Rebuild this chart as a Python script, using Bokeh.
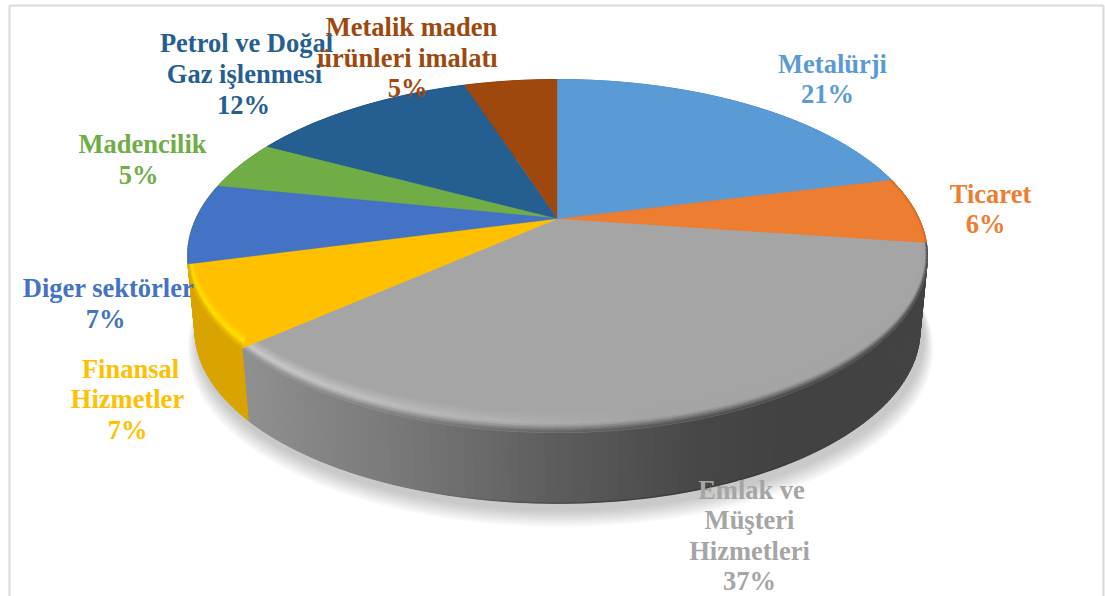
import math
from bokeh.plotting import figure
from bokeh.models import Range1d
from bokeh.core.properties import value
from bokeh.embed import file_html
from bokeh.resources import INLINE

categories = ["Metalürji", "Ticaret", "Emlak ve Müşteri Hizmetleri", "Finansal Hizmetler",
              "Diger sektörler", "Madencilik", "Petrol ve Doğal Gaz işlenmesi",
              "Metalik maden ürünleri imalatı"]
shares = [21.1, 6.1, 36.3, 7.4, 7.3, 4.6, 12.2, 5.0]
colors = ["#5B9BD5", "#ED7D31", "#A5A5A5", "#FFC000", "#4472C4", "#70AD47", "#255E91", "#9E480E"]

label_lines = [
    (["Metalürji", "21%"], [832, 827], [63, 93]),
    (["Ticaret", "6%"], [990, 985], [193, 223]),
    (["Emlak ve", "Müşteri", "Hizmetleri", "37%"], [751, 749, 749, 749], [489, 519, 550, 580]),
    (["Finansal", "Hizmetler", "7%"], [130, 127, 127], [368, 398, 429]),
    (["Diger sektörler", "7%"], [108, 105], [287, 318]),
    (["Madencilik", "5%"], [142, 138], [143, 174]),
    (["Petrol ve Doğal", "Gaz işlenmesi", "12%"], [246, 244, 243], [42, 73, 104]),
    (["Metalik maden", "ürünleri imalatı", "5%"], [411, 407, 407], [26, 57, 87]),
]

CX, CY, A, B, K = 557.0, 218.0, 361.5, 168.5, 0.2126
DEPTH, SHRINK = 75.0, 0.98


def top(theta, r=1.0):
    u, v = r * math.sin(theta), r * math.cos(theta)
    w = 1 + K * v
    return CX + A * u / w, CY - B * v / w


def bottom(theta, r=1.0):
    x, y = top(theta, r)
    return CX + (x - CX) * SHRINK, CY + (y - CY) * SHRINK + DEPTH


def hex2rgb(c):
    return tuple(int(c[i:i + 2], 16) for i in (1, 3, 5))


def mix(a, b, t):
    t = max(0.0, min(1.0, t))
    return tuple(a[i] + (b[i] - a[i]) * t for i in range(3))


def tohex(c):
    return "#%02x%02x%02x" % tuple(int(round(v)) for v in c)


def side_rgb(i, x):
    if i == 2:
        stops = [(240, 0x90), (400, 0x78), (557, 0x5c), (700, 0x47), (780, 0x42), (930, 0x42)]
        for (x0, g0), (x1, g1) in zip(stops, stops[1:]):
            if x <= x1:
                g = g0 + (g1 - g0) * max(0, x - x0) / (x1 - x0)
                return (g, g, g)
        return (0x42, 0x42, 0x42)
    if i == 4:  # the sliver at the left silhouette reads as the yellow wall
        i = 3
    return tuple(v * 0.855 for v in hex2rgb(colors[i]))


total = sum(shares)
edges = [0.0]
for s in shares:
    edges.append(edges[-1] + s / total * 2 * math.pi)

p = figure(width=1105, height=596, output_backend="svg", toolbar_location=None,
           x_range=Range1d(0, 1105), y_range=Range1d(596, 0),
           x_axis_location=None, y_axis_location=None, min_border=0,
           outline_line_color=None, background_fill_color="white")
p.grid.visible = False

# frame
p.line([9, 9], [5, 596], line_color="#d9d9d9", line_width=2)
p.line([1103, 1103], [5, 596], line_color="#d9d9d9", line_width=2)
p.line([9, 1103], [5, 5], line_color="#d9d9d9", line_width=2)

# soft shadow
ts = [i / 180 * 2 * math.pi for i in range(180)]
for n in range(8):
    g = 1.0 + 0.0035 * (8 - n)
    xs, ys = [], []
    for t in ts:
        x, y = bottom(t)
        xs.append(CX + 3 + (x - CX) * g)
        ys.append(CY + 6 + (y - CY) * g + 1.2 * (8 - n))
    p.patch(xs, ys, fill_color="#000000", fill_alpha=0.028, line_color=None)

# side wall, strip by strip
sx, sy, sc = [], [], []
for i in range(len(shares)):
    a0, a1 = edges[i], edges[i + 1]
    n = max(2, int((a1 - a0) / 0.02))
    for j in range(n):
        t0 = a0 + (a1 - a0) * j / n
        t1 = a0 + (a1 - a0) * (j + 1) / n
        x0, y0 = top(t0)
        x1, y1 = top(t1)
        x2, y2 = bottom(t1)
        x3, y3 = bottom(t0)
        sx.append([x0, x1, x2, x3])
        sy.append([y0, y1, y2, y3])
        sc.append(tohex(side_rgb(i, (x0 + x1) / 2)))
p.patches(sx, sy, fill_color=sc, line_color=sc, line_width=1)

# dark lower rim, fading out on both sides of the front
rx, ry, ra = [], [], []
RIM = 60
for i in range(RIM):
    t0 = math.pi * 0.74 + math.pi * 0.36 * i / RIM
    t1 = math.pi * 0.74 + math.pi * 0.36 * (i + 1) / RIM
    b0, b1 = bottom(t0), bottom(t1)
    rx.append([b0[0], b1[0]])
    ry.append([b0[1], b1[1]])
    ra.append(0.55 * math.sin(math.pi * (i + 0.5) / RIM))
p.multi_line(rx, ry, line_color="#2e2e2e", line_width=1.5, line_alpha=ra)


# top surface
def wedge(i):
    a0, a1 = edges[i], edges[i + 1]
    n = max(2, int((a1 - a0) / 0.01))
    pts = [top(a0 + (a1 - a0) * j / n) for j in range(n + 1)]
    return [CX] + [q[0] for q in pts], [CY] + [q[1] for q in pts]


def draw_wedges(ids):
    tx, ty, tc = [], [], []
    for i in ids:
        wx, wy = wedge(i)
        tx.append(wx)
        ty.append(wy)
        tc.append(colors[i])
    p.patches(tx, ty, fill_color=tc, line_color=tc, line_width=0.5)


BEVEL = 17.0
LAYERS = 10


def bevel_pt(theta, f):
    x, y = top(theta, 1.0 - 0.014 * (1 - f))
    return x, y - BEVEL * (1 - f) * max(0.0, -math.cos(theta) + 0.15) / 1.15


def draw_bevel(ids):
    bx, by, bc = [], [], []
    for i in ids:
        base = hex2rgb(colors[i])
        a0, a1 = edges[i], edges[i + 1]
        n = max(2, int((a1 - a0) / 0.02))
        for j in range(n):
            t0 = a0 + (a1 - a0) * j / n
            t1 = a0 + (a1 - a0) * (j + 1) / n
            xm = top((t0 + t1) / 2)[0]
            hl = max(0.0, min(1.0, (640 - xm) / 380))
            if i == 2:
                light = mix(base, (255, 255, 255), 0.42 * hl)
            elif i == 3:
                light = mix(base, (255, 225, 0), hl)
            else:
                light = base
            dark = side_rgb(i, xm)
            for k in range(LAYERS):
                f0, f1 = k / LAYERS, (k + 1) / LAYERS
                fm = (f0 + f1) / 2
                c = mix(base, light, fm / 0.6) if fm < 0.6 else mix(light, dark, (fm - 0.6) / 0.4)
                a = bevel_pt(t0, f0)
                b = bevel_pt(t1, f0)
                d = bevel_pt(t1, f1)
                e = bevel_pt(t0, f1)
                bx.append([a[0], b[0], d[0], e[0]])
                by.append([a[1], b[1], d[1], e[1]])
                bc.append(tohex(c))
    p.patches(bx, by, fill_color=bc, line_color=bc, line_width=0.6)


# the bevel's inner edge leans over its neighbour, so neighbours are repainted on top
draw_wedges(range(len(shares)))
draw_bevel([2])
draw_wedges([1, 3])
draw_bevel([1, 3])
draw_wedges([0, 4])

# labels
xs, ys, txt, col = [], [], [], []
for i, (lines, lxs, lys) in enumerate(label_lines):
    for s, lx, ly in zip(lines, lxs, lys):
        xs.append(lx)
        ys.append(ly)
        txt.append(s)
        col.append(colors[i])
p.text(xs, ys, text=txt, text_color=col, text_align="center", text_baseline="middle",
       text_font=value("Liberation Serif"), text_font_style="bold", text_font_size="26.5px")

open("out.html", "w").write(file_html(p, INLINE))
